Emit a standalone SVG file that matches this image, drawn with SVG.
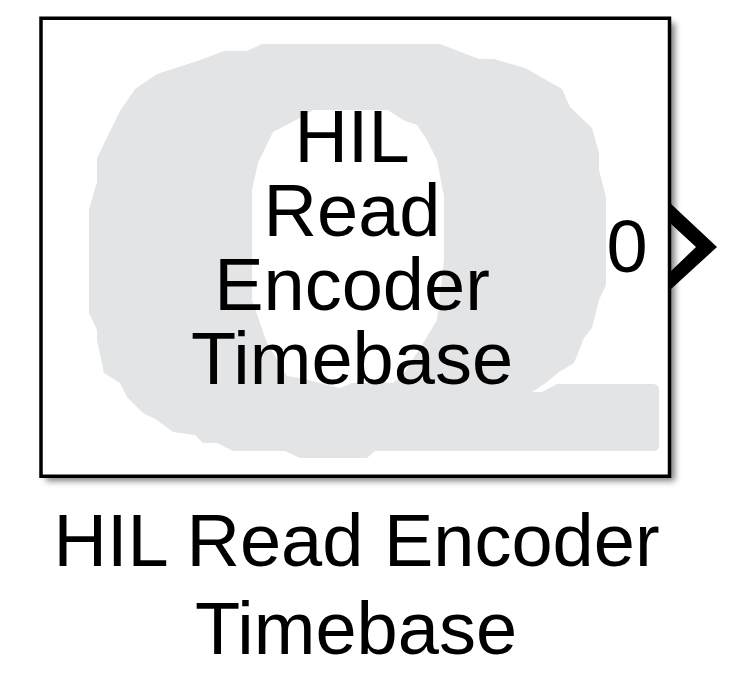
<svg xmlns="http://www.w3.org/2000/svg" width="734" height="680" viewBox="0 0 734 680">
<defs>
<filter id="sh" x="-5%" y="-5%" width="112%" height="112%"><feGaussianBlur stdDeviation="3"/></filter>
</defs>
<style>
text{font-family:"Liberation Sans",Arial,sans-serif;fill:#000;text-anchor:middle;font-size:74px}
</style>
<rect width="734" height="680" fill="#fff"/>
<g id="block">
<rect x="46" y="23" width="629" height="458" fill="#000" fill-opacity="0.5" filter="url(#sh)"/>
<rect x="41" y="18.250" width="628.500" height="458" fill="#fff" stroke="#000" stroke-width="3.500"/>
<path id="omega" fill="#e3e4e6" fill-rule="evenodd" d="M262 44L247 51H224L203 59L182 66L157 74L135 89L120 111L97 158V182L89 209V313L97 330V340L104 373L120 383L127 397L143 413L157 420L173 432L195 435L203 443H217L233 451H285L300 458H367L375 451H653Q659 451 659 445V390Q659 384 653 384H557L542 392H532L547 382L559 372L574 363L584 338L592 328L599 300L606 285V197L599 170V153L592 128L570 107L562 89L525 68L494 59H479L440 44ZM313 110L300 118L273 132L258 163L252 190V300L267 343L287 376L300 378L340 388L352 383H393L403 375L422 345L437 320L444 260V197L437 160L427 140L417 125L403 120L388 110Z"/>
<text x="352" y="162">HIL</text>
<text x="352" y="236">Read</text>
<text x="352" y="310">Encoder</text>
<text x="352" y="384">Timebase</text>
<text x="627" y="272">0</text>
<path id="port" d="M670 203L717 247L670 290V272L696 247L670 223Z" fill="#000"/>
</g>
<g id="connectors"/>
<text x="356.500" y="566">HIL Read Encoder</text>
<text x="356" y="654">Timebase</text>
</svg>
